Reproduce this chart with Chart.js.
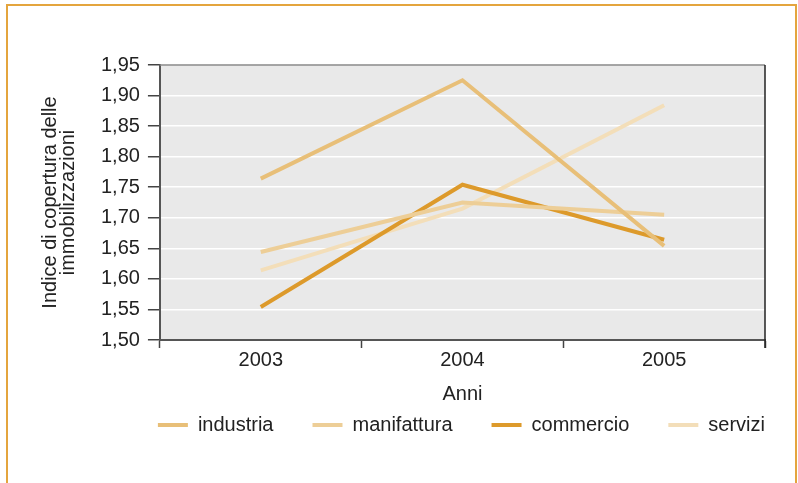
<!DOCTYPE html>
<html>
<head>
<meta charset="utf-8">
<script src="https://cdn.jsdelivr.net/npm/chart.js@4"></script>
<style>
  html, body { margin: 0; padding: 0; background: #fff; }
  #wrap { position: relative; width: 798px; height: 483px; }
  #frame {
    position: absolute; left: 6px; top: 4px; width: 791px; height: 490px;
    border: 2px solid #E4A53E; border-bottom: none; box-sizing: border-box;
  }
  canvas { position: absolute; left: 0; top: 0; }
</style>
</head>
<body>
<div id="wrap">
  <div id="frame"></div>
  <canvas id="indiceChart" width="798" height="483"></canvas>
</div>
<script>
const anni = ['2003', '2004', '2005'];
const industria = [1.764, 1.925, 1.654];
const manifattura = [1.644, 1.725, 1.705];
const commercio = [1.554, 1.754, 1.664];
const servizi = [1.614, 1.715, 1.884];

const FONT = "'Liberation Sans', Arial, sans-serif";
const LEGEND_PAD = 39;

// sfondo grigio dell'area del grafico e bordi superiore/destro
const sfondoArea = {
    id: 'sfondoArea',
    afterLayout(chart) {
        // allinea la legenda al bordo destro dell'area del grafico
        const lg = chart.legend;
        const shift = chart.chartArea.right + LEGEND_PAD - lg.right;
        lg.left += shift;
        lg.right += shift;
    },
    beforeDraw(chart) {
        const { ctx, chartArea: a } = chart;
        ctx.save();
        ctx.fillStyle = '#E9E9E9';
        ctx.fillRect(a.left, a.top, a.right - a.left, a.bottom - a.top);
        ctx.restore();
    },
    afterDatasetsDraw(chart) {
        const { ctx, chartArea: a } = chart;
        ctx.save();
        ctx.lineWidth = 1.5;
        ctx.strokeStyle = '#888';
        ctx.beginPath();
        ctx.moveTo(a.left, a.top);
        ctx.lineTo(a.right, a.top);
        ctx.stroke();
        ctx.strokeStyle = '#222';
        ctx.beginPath();
        ctx.moveTo(a.right, a.top);
        ctx.lineTo(a.right, a.bottom + 8);
        ctx.stroke();
        ctx.restore();
    }
};

function serie(label, data, colore) {
    return {
        label: label,
        data: data,
        borderColor: colore,
        backgroundColor: colore,
        borderWidth: 4,
        pointRadius: 0,
        tension: 0
    };
}

const ctx = document.getElementById('indiceChart').getContext('2d');
new Chart(ctx, {
    type: 'line',
    data: {
        labels: anni,
        datasets: [
            serie('industria', industria, '#E8BF78'),
            serie('manifattura', manifattura, '#EDCE97'),
            serie('commercio', commercio, '#DD9A2B'),
            serie('servizi', servizi, '#F3DEB9')
        ]
    },
    options: {
        responsive: false,
        animation: false,
        layout: { padding: { left: 41, right: 33, top: 65, bottom: 38 } },
        plugins: {
            legend: {
                position: 'bottom',
                align: 'end',
                labels: {
                    boxWidth: 30,
                    boxHeight: 4,
                    padding: LEGEND_PAD,
                    color: '#222',
                    font: { family: FONT, size: 20 },
                    // solo il rettangolo pieno, senza bordo
                    generateLabels(chart) {
                        return Chart.defaults.plugins.legend.labels.generateLabels(chart)
                            .map(item => Object.assign(item, { lineWidth: 0 }));
                    }
                }
            },
            tooltip: { enabled: false }
        },
        scales: {
            x: {
                offset: true,
                grid: {
                    offset: true,
                    drawOnChartArea: false,
                    tickLength: 8,
                    tickColor: '#444',
                    tickWidth: 1.5
                },
                border: { color: '#555', width: 2 },
                ticks: { color: '#222', padding: 0, font: { family: FONT, size: 20 } },
                title: {
                    display: true,
                    text: 'Anni',
                    color: '#222',
                    padding: { top: 10, bottom: -30 },
                    font: { family: FONT, size: 20 }
                }
            },
            y: {
                min: 1.5,
                max: 1.95,
                grid: {
                    color: '#fff',
                    lineWidth: 1.5,
                    tickLength: 12,
                    tickColor: '#444',
                    tickWidth: 1.5
                },
                border: { color: '#555', width: 2 },
                ticks: {
                    stepSize: 0.05,
                    autoSkip: false,
                    color: '#222',
                    padding: 8,
                    font: { family: FONT, size: 20 },
                    callback: v => v.toFixed(2).replace('.', ',')
                },
                title: {
                    display: true,
                    text: ['Indice di copertura delle', 'immobilizzazioni'],
                    color: '#222',
                    padding: { top: 0, bottom: 16 },
                    font: { family: FONT, size: 20, lineHeight: 0.9 }
                }
            }
        }
    },
    plugins: [sfondoArea]
});
</script>
</body>
</html>
